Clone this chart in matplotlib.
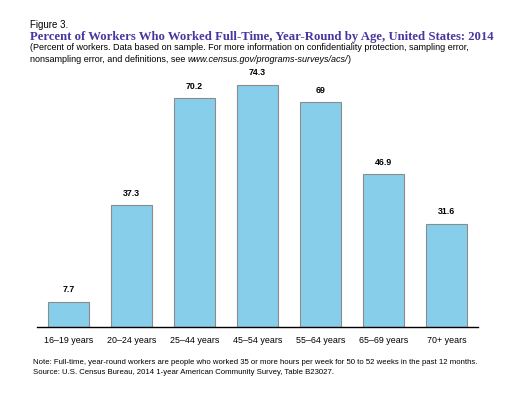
import matplotlib
matplotlib.use("Agg")
import matplotlib.pyplot as plt

categories = ["16\u201319 years", "20\u201324 years", "25\u201344 years", "45\u201354 years",
              "55\u201364 years", "65\u201369 years", "70+ years"]
values = [7.7, 37.3, 70.2, 74.3, 69, 46.9, 31.6]
value_labels = ["7.7", "37.3", "70.2", "74.3", "69", "46.9", "31.6"]

W, H = 512, 403
fig = plt.figure(figsize=(W/100, H/100), dpi=100)
fig.patch.set_facecolor("white")

ax_left, ax_right = 37/W, 478/W
ax_bottom = (H - 327)/H
ax_top = (H - 66.4)/H
ax = fig.add_axes([ax_left, ax_bottom, ax_right - ax_left, ax_top - ax_bottom])

x = list(range(len(categories)))
bars = ax.bar(x, values, width=0.65, color="#87CEEB", edgecolor="#8c8c8c", linewidth=0.8, zorder=2)
for xi, v, lab in zip(x, values, value_labels):
    ax.annotate(lab, (xi, v), xytext=(0, 5.5), textcoords="offset points",
                ha="center", va="bottom", fontsize=6.3, fontweight="bold", family="Liberation Sans")

ax.set_xlim(-0.5, len(categories) - 0.5)
ax.set_ylim(0, 80)
for s in ["top", "right", "left"]:
    ax.spines[s].set_visible(False)
ax.spines["bottom"].set_color("black")
ax.spines["bottom"].set_linewidth(1.0)
ax.set_yticks([])
ax.set_xticks(x)
ax.set_xticklabels(categories, fontsize=6.4, family="Liberation Sans")
ax.tick_params(axis="x", length=0, pad=6.5)

renderer = fig.canvas.get_renderer()

def fit(t, target_px):
    for _ in range(3):
        w = t.get_window_extent(renderer).width
        t.set_fontsize(t.get_fontsize() * target_px / w)

fig.text(30/W, 1 - 25/H, "Figure 3.", fontsize=7, family="Liberation Sans", va="center", ha="left")
t = fig.text(30/W, 1 - 37/H, "Percent of Workers Who Worked Full-Time, Year-Round by Age, United States: 2014",
             fontsize=9.0, family="Liberation Serif", fontweight="bold", color="#4b35a0", va="center", ha="left")
fit(t, 463)
t = fig.text(30/W, 1 - 48/H, "(Percent of workers. Data based on sample. For more information on confidentiality protection, sampling error,",
             fontsize=6.0, family="Liberation Sans", va="center", ha="left")
fit(t, 444)
fs_sub = t.get_fontsize()
t1 = fig.text(30/W, 1 - 59/H, "nonsampling error, and definitions, see ",
              fontsize=fs_sub, family="Liberation Sans", va="center", ha="left")
w1 = t1.get_window_extent(renderer).width
it = fig.text((30 + w1)/W, 1 - 59/H, "www.census.gov/programs-surveys/acs/",
              fontsize=fs_sub, family="Liberation Sans", style="italic", va="center", ha="left")
wi = it.get_window_extent(renderer).width
fig.text((30 + w1 + wi)/W, 1 - 59/H, ")", fontsize=fs_sub, family="Liberation Sans", va="center", ha="left")

t = fig.text(33/W, 1 - 362/H, "Note: Full-time, year-round workers are people who worked 35 or more hours per week for 50 to 52 weeks in the past 12 months.",
             fontsize=5.6, family="Liberation Sans", va="center", ha="left")
fit(t, 445)
fig.text(33/W, 1 - 373/H, "Source: U.S. Census Bureau, 2014 1-year American Community Survey, Table B23027.",
         fontsize=t.get_fontsize(), family="Liberation Sans", va="center", ha="left")

fig.savefig("out.png", dpi=100, facecolor="white")
